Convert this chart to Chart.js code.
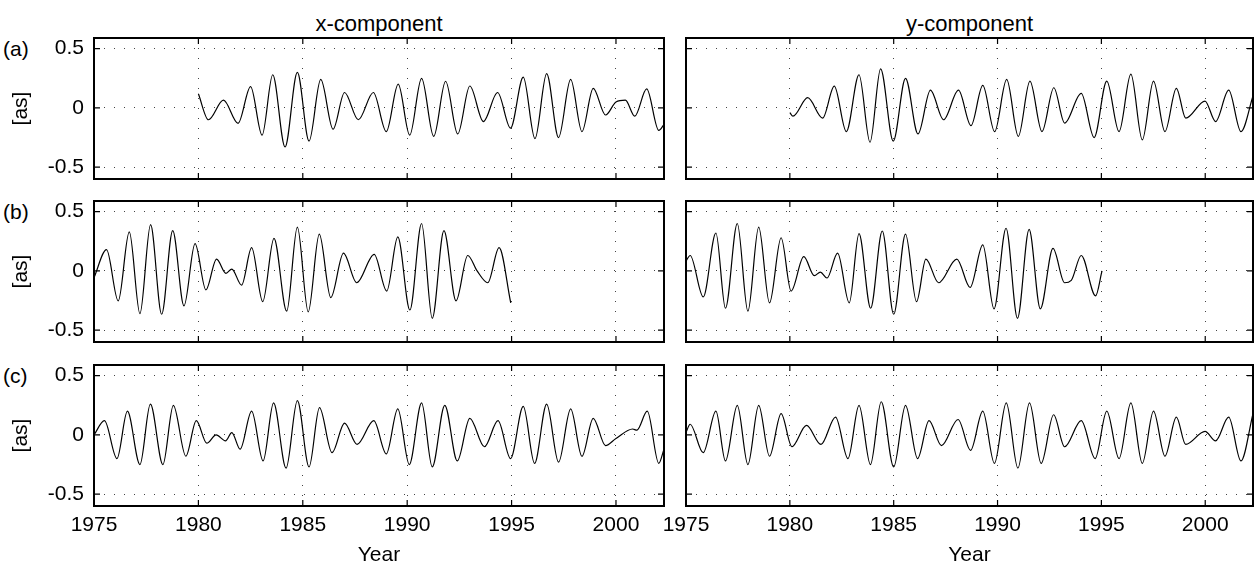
<!DOCTYPE html>
<html>
<head>
<meta charset="utf-8">
<script src="https://cdn.jsdelivr.net/npm/chart.js@4/dist/chart.umd.min.js"></script>
<style>
  body { margin: 0; background: #fff; }
  #wrap { position: relative; width: 1255px; height: 570px; background: #fff; font-family: "Liberation Sans", Arial, sans-serif; color: #000; }
  canvas { position: absolute; }
  .lbl { position: absolute; font-size: 21px; line-height: 24px; white-space: nowrap; }
  .ttl { text-align: center; font-size: 22px; line-height: 26px; }
</style>
</head>
<body>
<div id="wrap">
  <div class="lbl ttl" style="left:94px; width:570px; top:11px;">x-component</div>
  <div class="lbl ttl" style="left:686px; width:567px; top:11px;">y-component</div>
  <div class="lbl" style="left:3px; top:37px;">(a)</div>
  <div class="lbl" style="left:3px; top:200px;">(b)</div>
  <div class="lbl" style="left:3px; top:364px;">(c)</div>
  <canvas id="ax" width="666" height="145" style="left:0; top:36px;"></canvas>
  <canvas id="ay" width="615" height="145" style="left:640px; top:36px;"></canvas>
  <canvas id="bx" width="666" height="145" style="left:0; top:199px;"></canvas>
  <canvas id="by" width="615" height="145" style="left:640px; top:199px;"></canvas>
  <canvas id="cx" width="666" height="207" style="left:0; top:363px;"></canvas>
  <canvas id="cy" width="615" height="207" style="left:640px; top:363px;"></canvas>
</div>
<script>
// tick labels
const yearTicks = [1975, 1980, 1985, 1990, 1995, 2000];
const valueTicks = [-0.5, 0, 0.5];

// (a) x-component
const aXYears = [1980.0, 1980.48, 1981.2, 1981.9, 1982.5, 1983.05, 1983.56, 1984.15, 1984.74, 1985.3, 1985.86, 1986.45, 1987.0, 1987.66, 1988.38, 1989.0, 1989.57, 1990.12, 1990.69, 1991.27, 1991.84, 1992.42, 1993.0, 1993.65, 1994.33, 1994.95, 1995.56, 1996.12, 1996.68, 1997.25, 1997.83, 1998.37, 1998.91, 1999.5, 2000.0, 2000.45, 2000.9, 2001.47, 2002.05, 2002.3];
const aXValues = [0.12, -0.10, 0.065, -0.13, 0.18, -0.23, 0.28, -0.33, 0.30, -0.28, 0.24, -0.18, 0.13, -0.10, 0.13, -0.20, 0.20, -0.23, 0.25, -0.24, 0.225, -0.22, 0.185, -0.115, 0.13, -0.17, 0.26, -0.26, 0.29, -0.25, 0.24, -0.20, 0.165, -0.06, 0.05, 0.065, -0.07, 0.16, -0.19, -0.14];

// (a) y-component
const aYYears = [1980.0, 1980.15, 1980.86, 1981.58, 1982.14, 1982.72, 1983.33, 1983.86, 1984.37, 1984.98, 1985.57, 1986.17, 1986.77, 1987.4, 1988.12, 1988.72, 1989.29, 1989.86, 1990.44, 1991.0, 1991.56, 1992.14, 1992.71, 1993.23, 1994.03, 1994.65, 1995.26, 1995.85, 1996.42, 1996.97, 1997.51, 1998.06, 1998.61, 1999.06, 1999.99, 2000.5, 2001.13, 2001.72, 2002.3];
const aYValues = [-0.04, -0.07, 0.086, -0.086, 0.184, -0.20, 0.28, -0.29, 0.33, -0.28, 0.25, -0.22, 0.15, -0.10, 0.15, -0.15, 0.19, -0.20, 0.24, -0.24, 0.226, -0.20, 0.17, -0.128, 0.123, -0.25, 0.226, -0.20, 0.285, -0.27, 0.226, -0.20, 0.165, -0.086, 0.058, -0.115, 0.15, -0.20, 0.10];

// (b) x-component
const bXYears = [1975.0, 1975.6, 1976.16, 1976.69, 1977.2, 1977.71, 1978.24, 1978.77, 1979.31, 1979.84, 1980.36, 1980.87, 1981.32, 1981.6, 1982.07, 1982.55, 1983.08, 1983.62, 1984.23, 1984.74, 1985.26, 1985.79, 1986.34, 1986.95, 1987.58, 1988.42, 1989.02, 1989.55, 1990.13, 1990.69, 1991.2, 1991.76, 1992.34, 1992.9, 1993.35, 1993.86, 1994.4, 1994.96];
const bXValues = [-0.057, 0.18, -0.253, 0.33, -0.36, 0.39, -0.366, 0.34, -0.295, 0.23, -0.16, 0.10, -0.02, 0.015, -0.12, 0.196, -0.26, 0.275, -0.34, 0.37, -0.345, 0.31, -0.225, 0.15, -0.10, 0.14, -0.17, 0.287, -0.33, 0.40, -0.40, 0.34, -0.253, 0.13, 0.0, -0.10, 0.196, -0.27];

// (b) y-component
const bYYears = [1975.0, 1975.2, 1975.83, 1976.44, 1976.9, 1977.47, 1977.98, 1978.5, 1979.02, 1979.58, 1980.06, 1980.67, 1981.18, 1981.47, 1981.79, 1982.3, 1982.86, 1983.33, 1983.89, 1984.45, 1985.0, 1985.57, 1986.1, 1986.55, 1987.16, 1988.04, 1988.68, 1989.29, 1989.83, 1990.41, 1990.96, 1991.52, 1992.06, 1992.67, 1993.23, 1993.55, 1994.03, 1994.72, 1995.03];
const bYValues = [0.084, 0.13, -0.22, 0.32, -0.315, 0.40, -0.34, 0.37, -0.27, 0.28, -0.17, 0.12, -0.04, -0.01, -0.06, 0.15, -0.27, 0.315, -0.315, 0.337, -0.366, 0.31, -0.26, 0.10, -0.10, 0.10, -0.14, 0.22, -0.32, 0.36, -0.40, 0.35, -0.32, 0.19, -0.10, -0.08, 0.13, -0.21, 0.0];

// (c) x-component
const cXYears = [1975.0, 1975.5, 1976.1, 1976.6, 1977.2, 1977.7, 1978.3, 1978.8, 1979.4, 1979.9, 1980.4, 1980.85, 1981.3, 1981.6, 1982.0, 1982.55, 1983.1, 1983.6, 1984.2, 1984.74, 1985.3, 1985.8, 1986.4, 1987.0, 1987.6, 1988.4, 1989.0, 1989.55, 1990.1, 1990.69, 1991.2, 1991.8, 1992.4, 1993.0, 1993.7, 1994.35, 1994.95, 1995.56, 1996.1, 1996.68, 1997.25, 1997.83, 1998.37, 1998.91, 1999.5, 2000.0, 2000.8, 2001.0, 2001.5, 2002.05, 2002.3];
const cXValues = [0.0, 0.12, -0.2, 0.2, -0.25, 0.26, -0.25, 0.25, -0.18, 0.12, -0.07, 0.0, -0.05, 0.02, -0.12, 0.2, -0.22, 0.27, -0.28, 0.29, -0.27, 0.23, -0.15, 0.1, -0.08, 0.12, -0.16, 0.22, -0.25, 0.27, -0.27, 0.25, -0.22, 0.14, -0.1, 0.12, -0.2, 0.24, -0.24, 0.26, -0.23, 0.22, -0.18, 0.14, -0.09, -0.03, 0.05, 0.04, 0.2, -0.24, -0.12];

// (c) y-component
const cYYears = [1975.0, 1975.2, 1975.83, 1976.44, 1976.9, 1977.47, 1977.98, 1978.5, 1979.02, 1979.58, 1980.1, 1980.8, 1981.5, 1982.2, 1982.8, 1983.33, 1983.88, 1984.4, 1985.0, 1985.57, 1986.15, 1986.7, 1987.3, 1988.1, 1988.7, 1989.29, 1989.85, 1990.42, 1990.98, 1991.54, 1992.1, 1992.7, 1993.23, 1994.03, 1994.7, 1995.26, 1995.85, 1996.42, 1996.97, 1997.51, 1998.06, 1998.61, 1999.06, 1999.99, 2000.5, 2001.13, 2001.72, 2002.3];
const cYValues = [0.02, 0.09, -0.15, 0.2, -0.22, 0.25, -0.25, 0.25, -0.18, 0.18, -0.1, 0.08, -0.08, 0.15, -0.2, 0.25, -0.25, 0.28, -0.27, 0.25, -0.2, 0.12, -0.09, 0.13, -0.13, 0.2, -0.24, 0.27, -0.28, 0.27, -0.24, 0.17, -0.1, 0.12, -0.2, 0.2, -0.2, 0.27, -0.24, 0.2, -0.18, 0.15, -0.08, 0.03, -0.05, 0.15, -0.22, 0.18];

Chart.defaults.font.family = "'Liberation Sans', Arial, sans-serif";
Chart.defaults.font.size = 21;
Chart.defaults.color = "#000";

// box round the plot area, with MATLAB style inward ticks
const framePlugin = {
  id: "frame",
  afterDraw(chart) {
    const { ctx, chartArea: a, scales } = chart;
    ctx.save();
    ctx.strokeStyle = "#000";
    ctx.lineWidth = 1.2;
    ctx.beginPath();
    scales.x.ticks.forEach((t) => {
      const px = scales.x.getPixelForValue(t.value);
      ctx.moveTo(px, a.top);
      ctx.lineTo(px, a.top + 6);
      ctx.moveTo(px, a.bottom);
      ctx.lineTo(px, a.bottom - 6);
    });
    scales.y.ticks.forEach((t) => {
      const py = scales.y.getPixelForValue(t.value);
      ctx.moveTo(a.left, py);
      ctx.lineTo(a.left + 6, py);
      ctx.moveTo(a.right, py);
      ctx.lineTo(a.right - 6, py);
    });
    ctx.stroke();
    ctx.lineWidth = 2;
    ctx.strokeRect(a.left, a.top, a.right - a.left, a.bottom - a.top);
    ctx.restore();
  },
};

// scales must not ask for extra room for their end labels
function noPad(s) {
  s.paddingLeft = 0;
  s.paddingRight = 0;
  s.paddingTop = 0;
  s.paddingBottom = 0;
}

function panel(id, years, values, leftSide, bottomRow) {
  new Chart(document.getElementById(id), {
    type: "line",
    data: {
      datasets: [
        {
          data: years.map((t, i) => ({ x: t, y: values[i] })),
          borderColor: "#000",
          borderWidth: 1.2,
          pointRadius: 0,
          cubicInterpolationMode: "monotone",
          fill: false,
        },
      ],
    },
    options: {
      responsive: false,
      animation: false,
      devicePixelRatio: 1,
      layout: { padding: { top: 2, right: 2, left: 0, bottom: 0 } },
      plugins: { legend: { display: false }, tooltip: { enabled: false } },
      scales: {
        x: {
          type: "linear",
          min: 1975,
          max: 2002.3,
          afterBuildTicks: (s) => { s.ticks = yearTicks.map((v) => ({ value: v })); },
          afterFit: (s) => { s.height = bottomRow ? 64 : 2; noPad(s); },
          ticks: { display: bottomRow, padding: 7, maxRotation: 0, autoSkip: false, callback: (v) => String(v) },
          grid: { color: "#444", lineWidth: 1, drawTicks: false },
          border: { display: false, dash: [1, 9] },
          title: { display: bottomRow, text: "Year", padding: { top: 0, bottom: 2 } },
        },
        y: {
          min: -0.6,
          max: 0.59,
          afterBuildTicks: (s) => { s.ticks = valueTicks.map((v) => ({ value: v })); },
          afterFit: (s) => { s.width = leftSide ? 94 : 46; noPad(s); },
          ticks: { display: leftSide, padding: 10, callback: (v) => String(v) },
          grid: { color: "#444", lineWidth: 1, drawTicks: false },
          border: { display: false, dash: [1, 9] },
          title: { display: leftSide, text: "[as]", padding: { top: 9, bottom: 0 } },
        },
      },
    },
    plugins: [framePlugin],
  });
}

panel("ax", aXYears, aXValues, true, false);
panel("ay", aYYears, aYValues, false, false);
panel("bx", bXYears, bXValues, true, false);
panel("by", bYYears, bYValues, false, false);
panel("cx", cXYears, cXValues, true, true);
panel("cy", cYYears, cYValues, false, true);
</script>
</body>
</html>
